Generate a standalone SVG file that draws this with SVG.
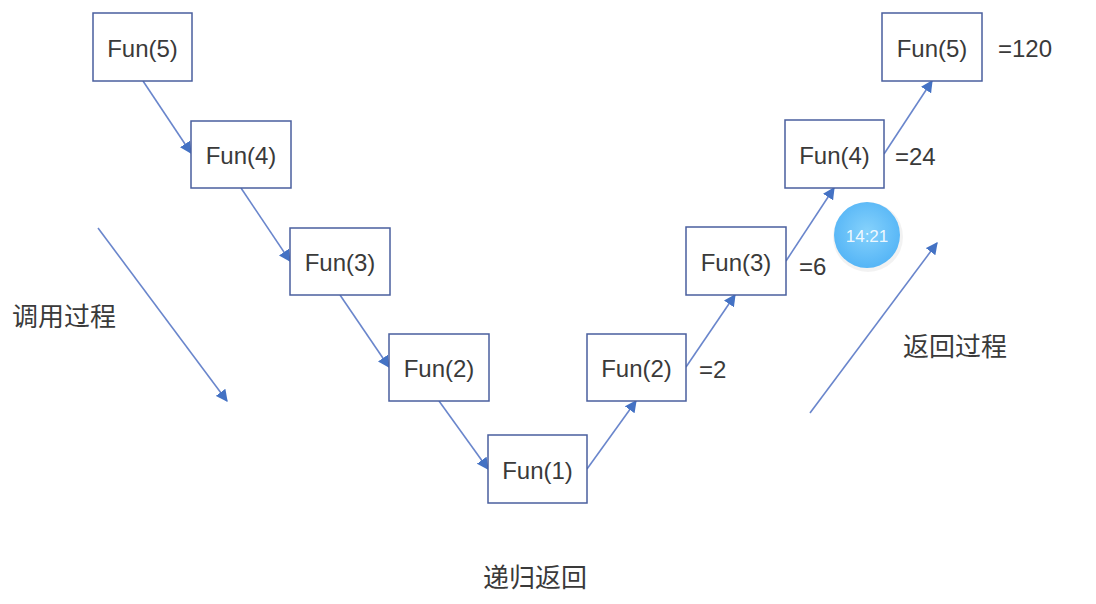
<svg xmlns="http://www.w3.org/2000/svg" width="1096" height="604" viewBox="0 0 1096 604">
<style>
.box{fill:#fff;stroke:#4a5f9e;stroke-width:1.5}
.lbl{font-family:"Liberation Sans","Noto Sans CJK SC",sans-serif;font-size:24px;fill:#3a3a3a;text-anchor:middle;dominant-baseline:central}
.val{font-family:"Liberation Sans",sans-serif;font-size:24px;fill:#3a3a3a}
.cjk{font-family:"Noto Sans CJK SC",sans-serif;font-size:26px;fill:#3a3a3a}
.con{stroke:#6a86cc;stroke-width:1.6;fill:none;marker-end:url(#ah)}
</style>
<defs>
<marker id="ah" viewBox="0 0 10 10" refX="9" refY="5" markerWidth="12" markerHeight="12" markerUnits="userSpaceOnUse" orient="auto">
<path d="M0,0 L10,5 L0,10 z" fill="#4472c4"/>
</marker>
<radialGradient id="cg" cx="50%" cy="45%" r="55%">
<stop offset="0" stop-color="#86d2fc"/>
<stop offset="1" stop-color="#55b5f6"/>
</radialGradient>
</defs>
<rect width="1096" height="604" fill="#fff"/>
<g id="connectors">
<line class="con" x1="143" y1="81" x2="191" y2="153"/>
<line class="con" x1="241" y1="188" x2="290" y2="261"/>
<line class="con" x1="340" y1="295" x2="389" y2="367"/>
<line class="con" x1="439" y1="401" x2="488" y2="469"/>
<line class="con" x1="587" y1="469" x2="636" y2="401"/>
<line class="con" x1="686" y1="367" x2="735" y2="295"/>
<line class="con" x1="786" y1="261" x2="834" y2="188"/>
<line class="con" x1="884" y1="154" x2="932" y2="81"/>
<line class="con" x1="98" y1="228" x2="227" y2="401"/>
<line class="con" x1="810" y1="413" x2="937" y2="243"/>
</g>
<g id="call5"><rect class="box" x="93" y="13" width="99" height="68"/><text class="lbl" x="142.5" y="48">Fun(5)</text></g>
<g id="call4"><rect class="box" x="191" y="121" width="100" height="67"/><text class="lbl" x="241" y="155.5">Fun(4)</text></g>
<g id="call3"><rect class="box" x="290" y="228" width="100" height="67"/><text class="lbl" x="340" y="262.5">Fun(3)</text></g>
<g id="call2"><rect class="box" x="389" y="334" width="100" height="67"/><text class="lbl" x="439" y="368.5">Fun(2)</text></g>
<g id="call1"><rect class="box" x="488" y="435" width="99" height="68"/><text class="lbl" x="537.5" y="470">Fun(1)</text></g>
<g id="ret2"><rect class="box" x="587" y="334" width="99" height="67"/><text class="lbl" x="636.5" y="368.5">Fun(2)</text><text class="val" x="699" y="378">=2</text></g>
<g id="ret3"><rect class="box" x="686" y="227" width="100" height="68"/><text class="lbl" x="736" y="262">Fun(3)</text><text class="val" x="799" y="275">=6</text></g>
<g id="ret4"><rect class="box" x="785" y="120" width="99" height="68"/><text class="lbl" x="834.5" y="155">Fun(4)</text><text class="val" x="895" y="165">=24</text></g>
<g id="ret5"><rect class="box" x="882" y="13" width="100" height="68"/><text class="lbl" x="932" y="48">Fun(5)</text><text class="val" x="998" y="57">=120</text></g>
<g id="labels">
<text class="cjk" x="12" y="326">调用过程</text>
<text class="cjk" x="903" y="356">返回过程</text>
<text class="cjk" x="483" y="587">递归返回</text>
</g>
<g id="timestamp">
<circle cx="868" cy="237" r="35" fill="#000" opacity="0.05"/>
<circle cx="867" cy="235" r="33" fill="url(#cg)"/>
<text x="867" y="236" font-family="Liberation Sans,sans-serif" font-size="17" fill="#fff" fill-opacity="0.9" text-anchor="middle" dominant-baseline="central">14:21</text>
</g>
</svg>
